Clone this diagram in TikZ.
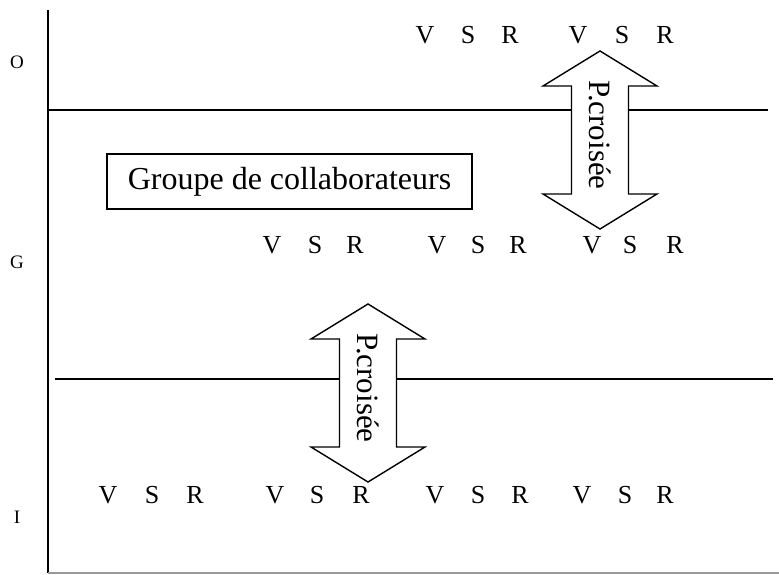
\documentclass[tikz,border=0pt]{standalone}
\usepackage{fontspec}
\setmainfont{Liberation Serif}
\begin{document}
\begin{tikzpicture}[x=1pt,y=-1pt,
  lbl/.style={font=\fontsize{26}{26}\selectfont, anchor=base, inner sep=0pt},
  side/.style={font=\fontsize{19}{19}\selectfont, inner sep=0pt},
  rule/.style={line width=1.4pt},
  bigarrow/.style={line width=1.4pt, fill=white, line join=miter},
  arrtext/.style={font=\fontsize{31}{31}\selectfont, rotate=-90, inner sep=0pt},
  groupbox/.style={draw, line width=1.4pt, font=\fontsize{32}{32}\selectfont,
    minimum width=365pt, minimum height=55pt, inner sep=0pt}]
\useasboundingbox (0,0) rectangle (779,575);
% axis
\draw[rule] (48,10) -- (48,573);
\draw[line width=1.5pt, black!40] (48,573) -- (779,573);
% level labels
\node[side] (O) at (17,62) {O};
\node[side] (G) at (17,262) {G};
\node[side] (I) at (17,517) {I};
% horizontal rules
\draw[rule] (48,110) -- (768,110);
\draw[rule] (55,379) -- (773,379);
% box
\node[groupbox] (grp) at (289.5,181.5) {Groupe de collaborateurs};
% double arrows
\newcommand{\dblarrow}[3]{%
  \draw[bigarrow] (#1,#2) -- ++(57,35) -- ++(-28.5,0) -- ++(0,108) -- ++(28.5,0)
    -- ++(-57,35) -- ++(-57,-35) -- ++(28.5,0) -- ++(0,-108) -- ++(-28.5,0) -- cycle;
  \node[arrtext] (#3) at (#1,#2+84) {P.croisée};}
\dblarrow{600}{51}{pc1}
\dblarrow{368}{304}{pc2}
% VSR rows
\foreach \x/\l [count=\i] in {425/V,468/S,510/R,578/V,622/S,665/R}
  \node[lbl] (t\i) at (\x,44) {\l};
\foreach \x/\l [count=\i] in {272/V,315/S,355/R,437/V,478/S,518/R,592/V,630/S,675/R}
  \node[lbl] (m\i) at (\x,253) {\l};
\foreach \x/\l [count=\i] in {108/V,152/S,195/R,275/V,317/S,361/R,435/V,478/S,520/R,582/V,625/S,665/R}
  \node[lbl] (b\i) at (\x,503) {\l};
\end{tikzpicture}
\end{document}
